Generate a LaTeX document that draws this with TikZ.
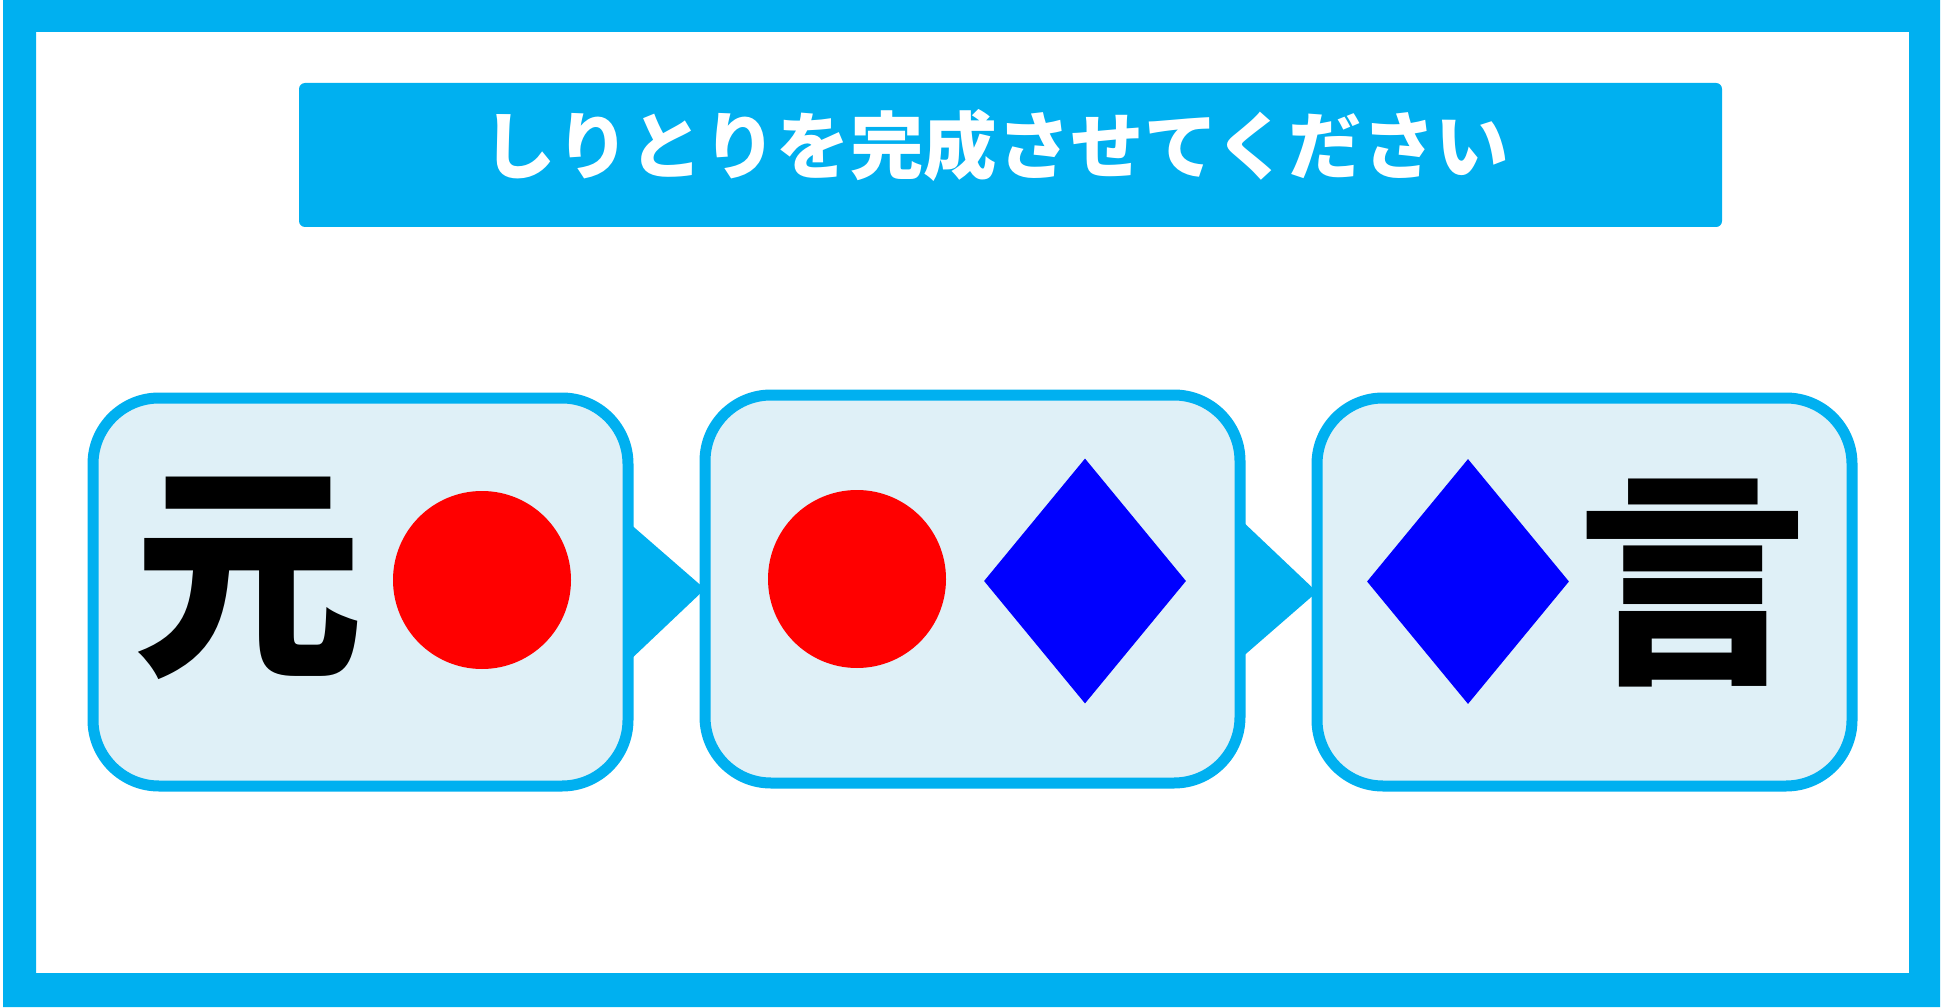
\documentclass[tikz,border=0pt]{standalone}
\usepackage{fontspec}
\newfontfamily\jp{Noto Sans CJK JP}
\usetikzlibrary{shapes.geometric,calc}
\definecolor{frameblue}{HTML}{00B0F0}
\definecolor{boxfill}{HTML}{DFF0F7}
\newcommand{\cardpath}[1]{%
  \path[cardline] ($(#1.north west)+(66,0)$) -- ($(#1.north east)+(-66,0)$)
    arc[start angle=90, end angle=0, radius=66pt]
    -- ($(#1.south east)+(0,-66)$)
    arc[start angle=0, end angle=-90, radius=66pt]
    -- ($(#1.south west)+(66,0)$)
    arc[start angle=-90, end angle=-180, radius=66pt]
    -- ($(#1.north west)+(0,66)$)
    arc[start angle=180, end angle=90, radius=66pt] -- cycle;}
\begin{document}
\begin{tikzpicture}[x=1pt,y=-1pt,
  cardspot/.style={rectangle, minimum width=535pt, minimum height=388pt, inner sep=0pt, outer sep=0pt},
  cardline/.style={draw=frameblue, line width=11pt, fill=boxfill, line join=round},
  pointer/.style={fill=frameblue},
  banner/.style={fill=frameblue, rounded corners=6pt, rectangle, minimum width=1423pt,
    minimum height=144pt, inner sep=0pt, outer sep=0pt},
  bannertext/.style={text=white, font=\jp\bfseries\fontsize{73.5}{73.5}\selectfont, inner sep=0pt},
  kanji/.style={text=black, font=\jp\bfseries\fontsize{230}{230}\selectfont, inner sep=0pt},
  dot/.style={circle, fill=red, minimum size=178pt, inner sep=0pt},
  gem/.style={diamond, fill=blue, minimum width=202pt, minimum height=245pt, inner sep=0pt}]
\useasboundingbox[fill=white] (0,0) rectangle (1943,1008);
\fill[frameblue, even odd rule] (3,0) rectangle (1940,1007) (36,32) rectangle (1909,973);
\node[banner] (title) at (1010.5,155) {};
\node[bannertext] (titletext) at (996,145) {しりとりを完成させてください};
\node[cardspot] (b1) at (360.5,592) {};
\node[cardspot] (b2) at (972.5,589) {};
\node[cardspot] (b3) at (1584.5,592) {};
\fill[pointer] ($(b1.east)+(0,-70)$) -- (b2.west) -- ($(b1.east)+(0,70)$) -- cycle;
\fill[pointer] ($(b2.east)+(0,-70)$) -- (b3.west) -- ($(b2.east)+(0,70)$) -- cycle;
\cardpath{b1}
\cardpath{b2}
\cardpath{b3}
\node[kanji] (k1) at (248,578) {元};
\node[dot] (d1) at (482,580) {};
\node[dot] (d2) at (857,579) {};
\node[gem] (g1) at (1085,581) {};
\node[gem] (g2) at (1468,581.5) {};
\node[kanji] (k2) at (1692,583) {言};
\end{tikzpicture}
\end{document}
